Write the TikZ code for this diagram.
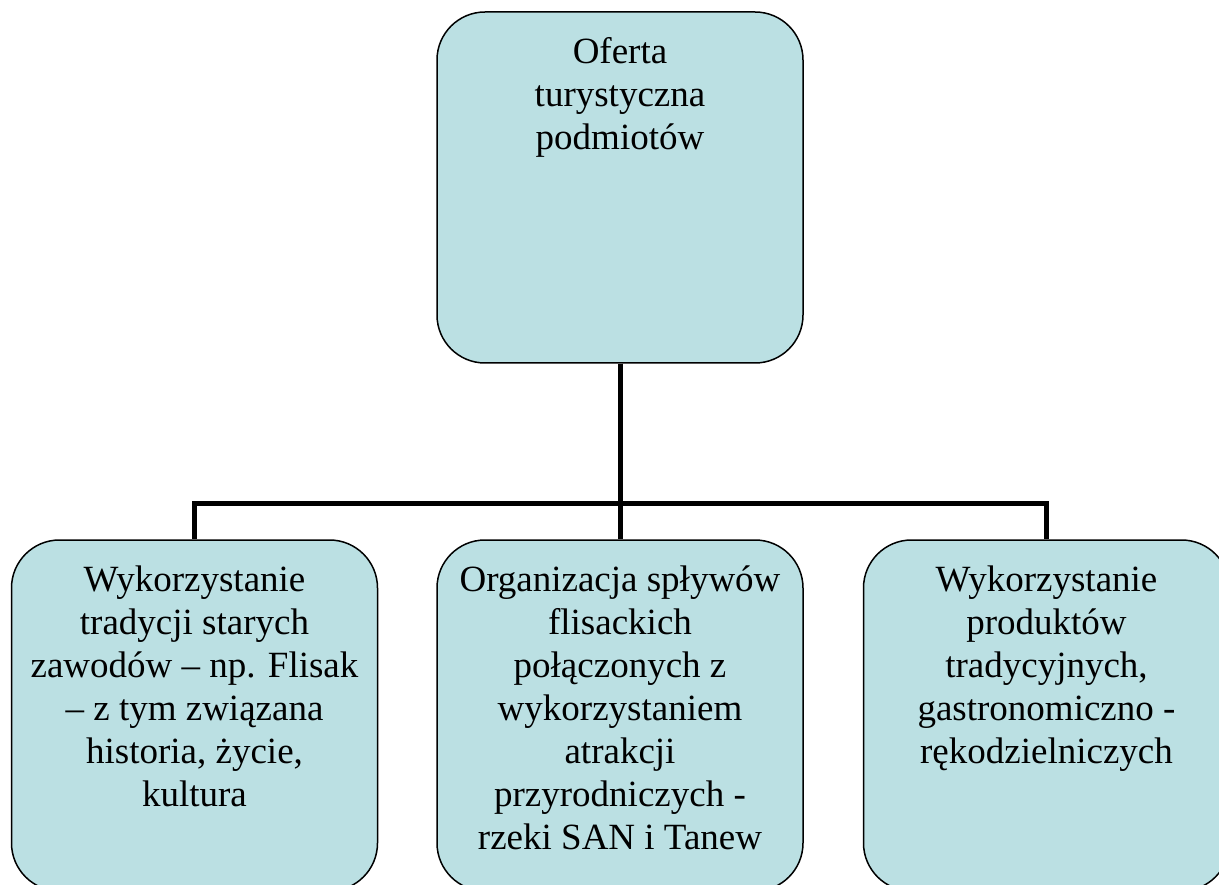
\documentclass[tikz,border=0pt]{standalone}
\usepackage{fontspec}
\setmainfont{Liberation Serif}
\usepackage{tikz}
\definecolor{boxblue}{HTML}{BBE0E3}

\begin{document}
\begin{tikzpicture}
[every node/.style={inner sep=0pt},
 box/.style={rectangle, rounded corners=48pt, minimum width=366pt, minimum height=351pt, fill=boxblue, line width=1.5pt, draw=black, font=\fontsize{37pt}{43pt}\selectfont},
 conn/.style={line width=5pt, color=black}]
\useasboundingbox (0pt, 0pt) rectangle (1219pt, -885pt);
\node (1) [box] at (620pt, -187.5pt) {\parbox[c][300pt][t]{360pt}{\centering Oferta\\turystyczna\\podmiotów}};
\node (2) [box] at (194.5pt, -715.5pt) {\parbox[c][300pt][t]{360pt}{\centering Wykorzystanie\\tradycji starych\\zawodów – np. Flisak\\– z tym związana\\historia, życie,\\kultura}};
\node (3) [box] at (620pt, -715.5pt) {\parbox[c][300pt][t]{360pt}{\centering Organizacja spływów\\flisackich\\połączonych z\\wykorzystaniem\\atrakcji\\przyrodniczych -\\rzeki SAN i Tanew}};
\node (4) [box] at (1046.5pt, -715.5pt) {\parbox[c][300pt][t]{360pt}{\centering Wykorzystanie\\produktów\\tradycyjnych,\\gastronomiczno -\\rękodzielniczych}};
\draw [conn] (1.south) -- ++(0pt, -140pt) -| (2.north);
\draw [conn] (1.south) -- (3.north);
\draw [conn] (1.south) -- ++(0pt, -140pt) -| (4.north);
\end{tikzpicture}
\end{document}
